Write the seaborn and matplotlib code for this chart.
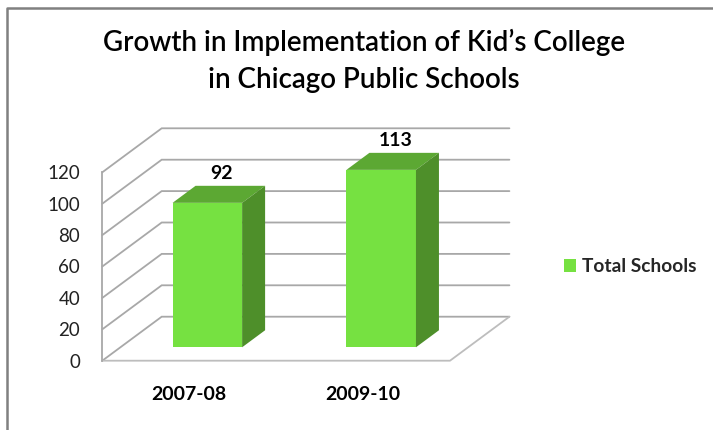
import matplotlib
matplotlib.use("Agg")
import matplotlib.pyplot as plt
import pandas as pd
import seaborn as sns
from matplotlib.lines import Line2D
from matplotlib.patches import Polygon

years = ["2007-08", "2009-10"]
total_schools = [92, 113]
series_name = "Total Schools"
y_ticks = [0, 20, 40, 60, 80, 100, 120]
title_lines = ["Growth in Implementation of Kid\u2019s College", "in Chicago Public Schools"]

FACE = "#76E141"
TOP = "#5CA833"
SIDE = "#4E8F2A"
GRID = "#A8A8A8"
BORDER = "#808080"

W, H = 713, 430
# plot box of the front plane, in pixels from the top-left corner
LEFT, RIGHT, TOP_Y, BOTTOM_Y = 102.3, 450.0, 172.3, 360.7
# full oblique depth of the floor, in pixels
DEPTH_X, DEPTH_Y = 59.4, 44.0
BAR_FRONT, BAR_BACK = 0.305, 0.692
BAR_WIDTH = 0.4

sns.set_theme(style="white")
plt.rcParams["font.family"] = ["Lato", "DejaVu Sans"]

fig = plt.figure(figsize=(W / 100, H / 100), dpi=100, facecolor="white")
ax = fig.add_axes([LEFT / W, 1 - BOTTOM_Y / H, (RIGHT - LEFT) / W, (BOTTOM_Y - TOP_Y) / H])
ax.patch.set_alpha(0)

df = pd.DataFrame({"year": years, "schools": total_schools, "series": series_name})
sns.barplot(data=df, x="year", y="schools", hue="series", palette=[FACE], saturation=1,
            width=BAR_WIDTH, linewidth=0, ax=ax, zorder=3)
ax.set_xlim(-0.5, 1.5)
ax.set_ylim(y_ticks[0], y_ticks[-1])
ax.set_xlabel("")
ax.set_ylabel("")

units_x = (RIGHT - LEFT) / 2
units_y = (BOTTOM_Y - TOP_Y) / (y_ticks[-1] - y_ticks[0])
DX = DEPTH_X / units_x
DY = DEPTH_Y / units_y


def project(x, y, depth):
    """Oblique projection of a point lying `depth` of the way into the chart."""
    return x + depth * DX, y + depth * DY


# back wall, side wall and floor
for v in y_ticks:
    xf, yf = project(-0.5, v, 0)
    xb, yb = project(-0.5, v, 1)
    xr, yr = project(1.5, v, 1)
    ax.plot([xf, xb, xr], [yf, yb, yr], color=GRID, lw=1.3, clip_on=False,
            zorder=1, solid_joinstyle="miter")
xf, yf = project(1.5, 0, 0)
xr, yr = project(1.5, 0, 1)
ax.plot([-0.5, xf, xr], [0, yf, yr], color="#BDBDBD", lw=1.3, clip_on=False, zorder=1)

# push each bar back from the front plane and give it a top and a side
for bar, value in zip(ax.patches, total_schools):
    cx = bar.get_x() + bar.get_width() / 2
    x0, x1 = cx - BAR_WIDTH / 2, cx + BAR_WIDTH / 2
    px, py = project(x0, 0, BAR_FRONT)
    bar.set_x(px)
    bar.set_y(py)
    bar.set_clip_on(False)
    top = [project(x0, value, BAR_FRONT), project(x1, value, BAR_FRONT),
           project(x1, value, BAR_BACK), project(x0, value, BAR_BACK)]
    side = [project(x1, 0, BAR_FRONT), project(x1, value, BAR_FRONT),
            project(x1, value, BAR_BACK), project(x1, 0, BAR_BACK)]
    ax.add_patch(Polygon(top, closed=True, facecolor=TOP, edgecolor="none",
                         clip_on=False, zorder=3))
    ax.add_patch(Polygon(side, closed=True, facecolor=SIDE, edgecolor="none",
                         clip_on=False, zorder=3))
    ax.annotate(str(value), xy=project(cx, value, BAR_BACK), xytext=(-6.0, 5.0),
                textcoords="offset points", ha="center", va="baseline",
                annotation_clip=False, fontsize=14, fontweight="bold",
                color="black", zorder=5)

ax.set_yticks(y_ticks)
ax.tick_params(axis="y", length=0, pad=16, labelsize=13.5, labelcolor="#222222")
ax.tick_params(axis="x", length=0, pad=18)
for label in ax.get_xticklabels():
    label.set_fontsize(14)
    label.set_fontweight("bold")
    label.set_color("black")

sns.despine(ax=ax, top=True, right=True, bottom=True)
ax.spines["left"].set_color(GRID)
ax.spines["left"].set_linewidth(1.3)

sns.move_legend(ax, "center left", bbox_to_anchor=(564 / W, 1 - 267 / H),
                bbox_transform=fig.transFigure, frameon=False, title=None,
                prop={"size": 13.8, "weight": "bold"}, handlelength=0.63,
                handleheight=0.63, handletextpad=0.3, borderpad=0, borderaxespad=0)

fig.text(364 / W, 1 - 42 / H, title_lines[0], ha="center", va="center",
         fontsize=20, fontweight="semibold", color="black")
fig.text(364 / W, 1 - 80 / H, title_lines[1], ha="center", va="center",
         fontsize=20, fontweight="semibold", color="black")

# chart frame, cropped on the right and at the bottom
fig.add_artist(Line2D([7 / W, 7 / W, 1], [0, 1 - 7.5 / H, 1 - 7.5 / H],
                      transform=fig.transFigure, color=BORDER, lw=1.8))

fig.savefig("out.png", dpi=100, facecolor="white")
